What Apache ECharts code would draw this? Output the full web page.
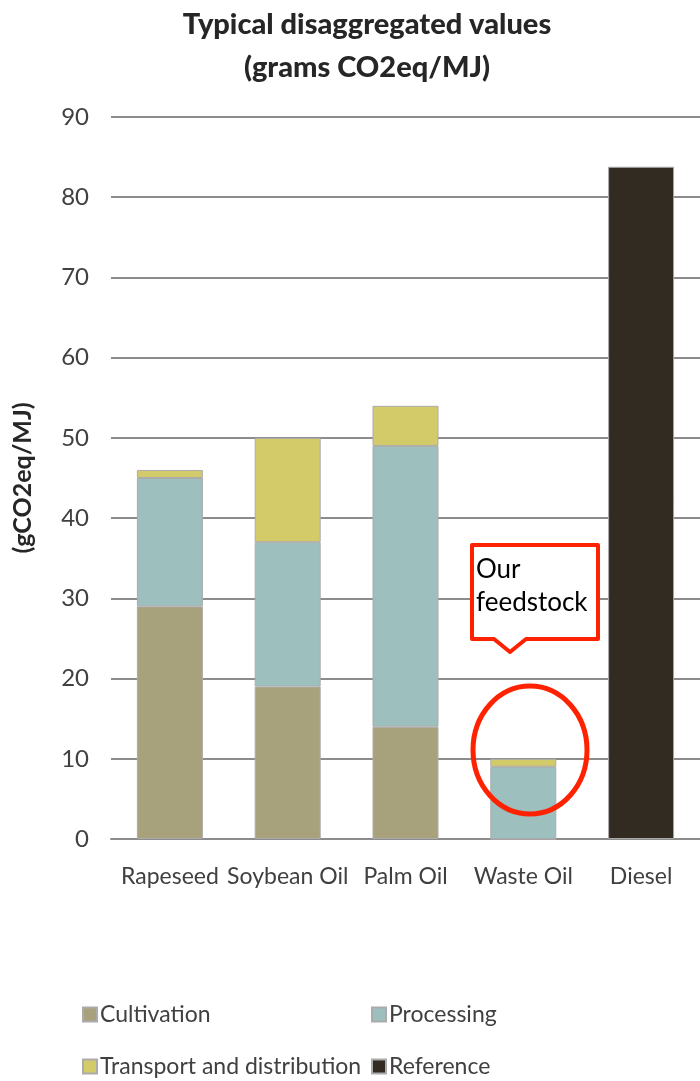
<!DOCTYPE html>
<html>
<head>
<meta charset="utf-8">
<script src="https://cdn.jsdelivr.net/npm/echarts@6/dist/echarts.min.js"></script>
<style>
  html, body { margin: 0; padding: 0; background: #fff; }
  #chart { width: 700px; height: 1081px; }
</style>
</head>
<body>
<div id="chart"></div>
<script>
// Feedstocks compared
const categories = ['Rapeseed', 'Soybean Oil', 'Palm Oil', 'Waste Oil', 'Diesel'];

// Typical disaggregated emissions, gCO2eq/MJ
const cultivation = [29, 19, 14, 0, '-'];
const processing = [16, 18, 35, 9, '-'];
const transport = [1, 13, 5, 1, '-'];
const reference = ['-', '-', '-', '-', 83.8];

const yTicks = [0, 10, 20, 30, 40, 50, 60, 70, 80, 90];

const FONT = 'Lato, "Open Sans", sans-serif';
const COLORS = {
  cultivation: '#A8A27C',
  processing: '#9DBFBE',
  transport: '#D3CA69',
  reference: '#312B21'
};

const chart = echarts.init(document.getElementById('chart'), null, { renderer: 'canvas' });

function barSeries(name, data, color) {
  return {
    name: name,
    type: 'bar',
    stack: 'total',
    barWidth: 66,
    data: data,
    itemStyle: { color: color, borderColor: '#ABABAB', borderWidth: 1 },
    emphasis: { disabled: true }
  };
}

function legendAt(name, left, top) {
  return {
    data: [name],
    left: left,
    top: top,
    padding: 0,
    icon: 'rect',
    itemWidth: 14,
    itemHeight: 14,
    itemGap: 0,
    selectedMode: false,
    textStyle: { fontFamily: FONT, fontSize: 23, color: '#404040', padding: [0, 0, 0, -2] }
  };
}

chart.setOption({
  animation: false,
  backgroundColor: '#ffffff',
  title: {
    text: 'Typical disaggregated values\n(grams CO2eq/MJ)',
    left: 362,
    textAlign: 'center',
    top: -2,
    textStyle: {
      fontFamily: FONT,
      fontWeight: 900,
      fontSize: 29,
      lineHeight: 43,
      color: '#262626'
    }
  },
  grid: { left: 111, right: -4, top: 117, bottom: 242, containLabel: false },
  xAxis: {
    type: 'category',
    data: categories,
    axisLine: { show: true, lineStyle: { color: '#8C8C8C', width: 2 } },
    axisTick: { show: false },
    axisLabel: { margin: 26, fontFamily: FONT, fontSize: 23, color: '#404040', interval: 0 }
  },
  yAxis: {
    type: 'value',
    min: yTicks[0],
    max: yTicks[yTicks.length - 1],
    interval: 10,
    name: '(gCO2eq/MJ)',
    nameLocation: 'middle',
    nameRotate: 90,
    nameGap: 76,
    nameTextStyle: { fontFamily: FONT, fontWeight: 'bold', fontSize: 25, color: '#262626' },
    axisLine: { show: false },
    axisTick: { show: false },
    axisLabel: { margin: 22, fontFamily: FONT, fontSize: 24, color: '#404040' },
    splitLine: { lineStyle: { color: '#8C8C8C', width: 2 } }
  },
  legend: [
    legendAt('Cultivation', 82, 1003),
    legendAt('Processing', 371, 1003),
    legendAt('Transport and distribution', 82, 1055),
    legendAt('Reference', 371, 1055)
  ],
  series: [
    barSeries('Cultivation', cultivation, COLORS.cultivation),
    barSeries('Processing', processing, COLORS.processing),
    barSeries('Transport and distribution', transport, COLORS.transport),
    barSeries('Reference', reference, COLORS.reference)
  ],
  graphic: [
    // callout box with pointer
    {
      type: 'polygon',
      shape: {
        points: [[472, 545], [598, 545], [598, 639], [526, 639], [510, 652], [494, 639], [472, 639]]
      },
      style: { fill: '#ffffff', stroke: '#FF2200', lineWidth: 4, lineJoin: 'round' },
      z: 100
    },
    {
      type: 'text',
      left: 476,
      top: 553,
      style: {
        text: 'Our\nfeedstock',
        font: '26px ' + FONT,
        lineHeight: 33,
        fill: '#000000'
      },
      z: 101
    },
    // highlight ring around the waste-oil bar
    {
      type: 'ellipse',
      shape: { cx: 530, cy: 750, rx: 57, ry: 64 },
      style: { fill: 'none', stroke: '#FF2200', lineWidth: 5 },
      z: 100
    }
  ]
});
</script>
</body>
</html>
